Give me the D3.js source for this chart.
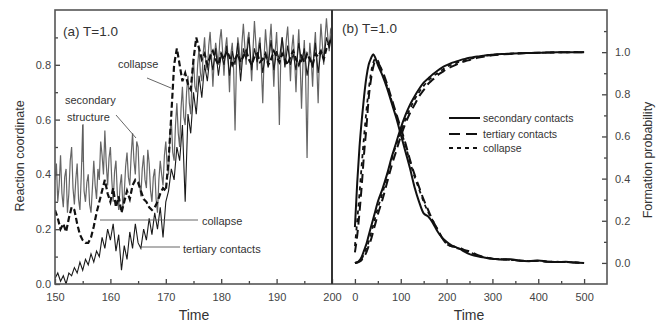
<!DOCTYPE html>
<html><head><meta charset="utf-8">
<script src="https://cdn.jsdelivr.net/npm/d3@7"></script>
<style>
html,body{margin:0;padding:0;background:#fff;}
svg text{font-family:"Liberation Sans",Arial,sans-serif;}
</style></head>
<body>
<svg id="chart" width="660" height="322"></svg>
<script>
// ---------- DATA ----------
// Panel (a): reaction coordinate vs time
const leftStart = 150;
const secStep = 0.25;   // secondary structure sampled every 0.25
const otherStep = 0.5;  // tertiary contacts and collapse sampled every 0.5
const secondaryStructure = [
0.38,0.44,0.30,0.36,0.47,0.33,0.28,0.39,0.42,0.26,
0.33,0.45,0.50,0.35,0.29,0.38,0.44,0.31,0.27,0.40,
0.58,0.34,0.30,0.37,0.40,0.29,0.26,0.35,0.45,0.36,
0.31,0.42,0.38,0.52,0.47,0.40,0.56,0.44,0.36,0.46,
0.50,0.38,0.30,0.41,0.45,0.33,0.27,0.36,0.40,0.28,
0.33,0.43,0.48,0.39,0.36,0.47,0.55,0.45,0.40,0.52,
0.50,0.37,0.32,0.42,0.47,0.38,0.35,0.49,0.44,0.34,
0.30,0.39,0.42,0.31,0.26,0.38,0.45,0.40,0.36,0.47,
0.52,0.43,0.40,0.55,0.60,0.48,0.45,0.58,0.66,0.55,
0.50,0.64,0.72,0.61,0.58,0.70,0.76,0.66,0.62,0.75,
0.82,0.72,0.70,0.80,0.86,0.77,0.74,0.84,0.90,0.80,
0.78,0.87,0.92,0.83,0.72,0.82,0.88,0.84,0.80,0.89,
0.93,0.85,0.76,0.86,0.90,0.82,0.70,0.84,0.88,0.78,
0.56,0.80,0.90,0.86,0.78,0.88,0.95,0.87,0.80,0.89,
0.92,0.83,0.74,0.86,0.96,0.88,0.78,0.87,0.90,0.79,
0.66,0.83,0.93,0.86,0.79,0.88,0.95,0.84,0.72,0.85,
0.92,0.80,0.58,0.82,0.90,0.86,0.80,0.89,0.94,0.85,
0.74,0.86,0.91,0.82,0.70,0.84,0.93,0.81,0.64,0.80,
0.89,0.75,0.46,0.78,0.88,0.82,0.72,0.85,0.92,0.80,
0.66,0.84,0.95,0.88,0.80,0.90,0.97,0.90,0.85,0.93,
0.94];
const tertiaryContacts = [
0.02,0.04,0.01,0.03,0.00,0.04,0.03,0.06,0.04,0.08,
0.05,0.09,0.07,0.11,0.08,0.12,0.10,0.17,0.13,0.20,
0.16,0.22,0.12,0.18,0.05,0.14,0.09,0.19,0.13,0.22,
0.15,0.13,0.20,0.16,0.24,0.18,0.26,0.20,0.28,0.17,
0.30,0.34,0.42,0.38,0.50,0.45,0.58,0.30,0.62,0.55,
0.70,0.62,0.76,0.68,0.80,0.74,0.84,0.78,0.86,0.76,
0.84,0.80,0.87,0.76,0.85,0.80,0.88,0.74,0.86,0.82,
0.90,0.78,0.86,0.81,0.88,0.77,0.84,0.80,0.89,0.78,
0.85,0.82,0.90,0.79,0.87,0.80,0.84,0.78,0.88,0.81,
0.86,0.76,0.83,0.79,0.88,0.77,0.85,0.82,0.90,0.86,
0.92];
const collapseA = [
0.27,0.24,0.20,0.22,0.19,0.24,0.28,0.27,0.22,0.18,
0.16,0.15,0.15,0.17,0.21,0.26,0.30,0.34,0.38,0.33,
0.30,0.35,0.28,0.32,0.26,0.30,0.34,0.31,0.36,0.38,
0.37,0.34,0.31,0.30,0.28,0.27,0.28,0.30,0.33,0.35,
0.34,0.45,0.62,0.80,0.86,0.80,0.74,0.77,0.73,0.71,
0.82,0.90,0.86,0.82,0.84,0.80,0.83,0.85,0.82,0.80,
0.84,0.82,0.85,0.83,0.80,0.82,0.84,0.81,0.83,0.85,
0.82,0.80,0.83,0.84,0.81,0.82,0.84,0.80,0.82,0.85,
0.83,0.81,0.84,0.82,0.80,0.83,0.85,0.82,0.80,0.83,
0.81,0.84,0.82,0.80,0.84,0.83,0.85,0.82,0.86,0.88,
0.90];
const leftXTicks = [150,160,170,180,190,200];
const leftYTicks = [0.0,0.2,0.4,0.6,0.8];

// Panel (b): formation probability vs time
const rightTime = [0,5,10,15,20,25,30,35,40,45,50,60,70,80,90,100,110,120,130,140,150,160,170,180,190,200,210,220,230,240,250,260,270,280,290,300,320,340,360,380,400,420,440,460,480,500];
const secPeak = [0.17,0.38,0.55,0.68,0.79,0.88,0.94,0.97,0.99,0.97,0.94,0.89,0.83,0.76,0.69,0.61,0.53,0.45,0.36,0.29,0.235,0.22,0.19,0.15,0.12,0.10,0.085,0.075,0.065,0.052,0.042,0.035,0.030,0.027,0.022,0.020,0.016,0.018,0.010,0.008,0.012,0.006,0.004,0.005,0.002,0.0];
const terPeak = [0.05,0.13,0.24,0.37,0.52,0.64,0.78,0.87,0.93,0.96,0.95,0.91,0.85,0.78,0.71,0.64,0.57,0.49,0.42,0.36,0.30,0.25,0.20,0.16,0.12,0.09,0.08,0.075,0.07,0.06,0.055,0.045,0.035,0.028,0.024,0.020,0.017,0.015,0.011,0.009,0.010,0.006,0.005,0.004,0.002,0.0];
const colPeak = [0.08,0.20,0.33,0.47,0.60,0.72,0.82,0.90,0.95,0.97,0.96,0.90,0.84,0.77,0.70,0.63,0.56,0.48,0.41,0.35,0.29,0.24,0.20,0.16,0.12,0.09,0.08,0.072,0.066,0.058,0.05,0.042,0.034,0.028,0.024,0.020,0.017,0.015,0.011,0.009,0.010,0.006,0.005,0.004,0.002,0.0];
const secCum = [0,0.003,0.012,0.03,0.06,0.09,0.13,0.17,0.21,0.25,0.29,0.35,0.42,0.50,0.57,0.64,0.70,0.75,0.79,0.825,0.855,0.875,0.895,0.912,0.927,0.938,0.948,0.955,0.962,0.968,0.973,0.977,0.980,0.983,0.986,0.988,0.991,0.993,0.995,0.996,0.997,0.998,0.999,0.999,1.0,1.0];
const terCum = [0,0.002,0.006,0.015,0.03,0.05,0.08,0.11,0.15,0.19,0.23,0.30,0.38,0.46,0.53,0.60,0.66,0.71,0.75,0.79,0.82,0.85,0.87,0.89,0.905,0.92,0.93,0.94,0.95,0.957,0.963,0.969,0.974,0.978,0.982,0.985,0.989,0.992,0.994,0.996,0.997,0.998,0.999,0.999,1.0,1.0];
const colCum = [0,0.003,0.01,0.02,0.045,0.07,0.10,0.14,0.18,0.22,0.26,0.33,0.41,0.49,0.56,0.62,0.68,0.73,0.775,0.81,0.84,0.865,0.885,0.90,0.915,0.93,0.94,0.948,0.956,0.962,0.968,0.973,0.977,0.981,0.984,0.987,0.990,0.993,0.995,0.996,0.997,0.998,0.999,0.999,1.0,1.0];
const rightXTicks = [0,100,200,300,400,500];
const rightYTicks = [0.0,0.2,0.4,0.6,0.8,1.0];
const legendLabels = ["secondary contacts","tertiary contacts","collapse"];

// ---------- DRAW ----------
const svg = d3.select("#chart");
const axisCol = "#444";
const xL = d3.scaleLinear().domain([150,200]).range([55,332]);
const yL = d3.scaleLinear().domain([0,1.0]).range([284,10]);
const xR = d3.scaleLinear().domain([-50,550]).range([332,607]);
const yR = d3.scaleLinear().domain([-0.1,1.2]).range([284,10]);

svg.append("clipPath").attr("id","clipA").append("rect")
  .attr("x",55).attr("y",10).attr("width",277).attr("height",274);

const gA = svg.append("g").attr("clip-path","url(#clipA)");
const lineL = (d,step) => d3.line().x((v,i)=>xL(leftStart + i*step)).y(v=>yL(v))(d);

gA.append("path").attr("d",lineL(secondaryStructure,secStep))
  .attr("fill","none").attr("stroke","#4a4a4a").attr("stroke-width",1.2).attr("stroke-opacity",0.85);
gA.append("path").attr("d",lineL(tertiaryContacts,otherStep))
  .attr("fill","none").attr("stroke","#1a1a1a").attr("stroke-width",1.1);
gA.append("path").attr("d",lineL(collapseA,otherStep))
  .attr("fill","none").attr("stroke","#111").attr("stroke-width",2.2).attr("stroke-dasharray","6,3");

const lineR = d => d3.line().x((v,i)=>xR(rightTime[i])).y(v=>yR(v)).curve(d3.curveMonotoneX)(d);
const styles = [
  {w:2, dash:null},
  {w:2, dash:"9,5"},
  {w:1.8, dash:"4,4"}
];
[[secPeak,secCum],[terPeak,terCum],[colPeak,colCum]].forEach((pair,k)=>{
  pair.forEach(arr=>{
    const p = svg.append("path").attr("d",lineR(arr))
      .attr("fill","none").attr("stroke","#111").attr("stroke-width",styles[k].w);
    if(styles[k].dash) p.attr("stroke-dasharray",styles[k].dash);
  });
});

legendLabels.forEach((lab,k)=>{
  const yy = [118,134,148][k];
  const l = svg.append("line").attr("x1",449).attr("x2",480).attr("y1",yy).attr("y2",yy)
    .attr("stroke","#111").attr("stroke-width",styles[k].w);
  if(styles[k].dash) l.attr("stroke-dasharray", k===1 ? "11,6" : "4,4");
  svg.append("text").attr("x",483).attr("y",yy+3.8).attr("font-size",10.5).attr("fill","#333").text(lab);
});

function styleAxis(g){
  g.select(".domain").remove();
  g.selectAll("line").attr("stroke",axisCol).attr("stroke-width",1.3);
  g.selectAll("text").attr("font-size",11).attr("fill","#444")
    .attr("font-family","'Liberation Sans',Arial,sans-serif");
}

svg.append("g").attr("transform","translate(0,284)")
  .call(d3.axisBottom(xL).tickValues(leftXTicks).tickSize(-5).tickPadding(9).tickFormat(d3.format("d")))
  .call(styleAxis);
svg.append("g").attr("transform","translate(0,284)")
  .call(d3.axisBottom(xL).tickValues(leftXTicks.slice(0,-1).map(d=>d+5)).tickSize(-3).tickFormat(""))
  .call(styleAxis);
svg.append("g").attr("transform","translate(55,0)")
  .call(d3.axisLeft(yL).tickValues(leftYTicks).tickSize(-5).tickPadding(4).tickFormat(d3.format(".1f")))
  .call(styleAxis);
svg.append("g").attr("transform","translate(55,0)")
  .call(d3.axisLeft(yL).tickValues(leftYTicks.map(d=>d+0.1)).tickSize(-3).tickFormat(""))
  .call(styleAxis);

svg.append("g").attr("transform","translate(0,284)")
  .call(d3.axisBottom(xR).tickValues(rightXTicks).tickSize(-5).tickPadding(9).tickFormat(d3.format("d")))
  .call(styleAxis);
svg.append("g").attr("transform","translate(0,284)")
  .call(d3.axisBottom(xR).tickValues(rightXTicks.slice(0,-1).map(d=>d+50)).tickSize(-3).tickFormat(""))
  .call(styleAxis);
svg.append("g").attr("transform","translate(607,0)")
  .call(d3.axisRight(yR).tickValues(rightYTicks).tickSize(-5).tickPadding(8).tickFormat(d3.format(".1f")))
  .call(styleAxis);
svg.append("g").attr("transform","translate(607,0)")
  .call(d3.axisRight(yR).tickValues(rightYTicks.map(d=>+(d+0.1).toFixed(1))).tickSize(-3).tickFormat(""))
  .call(styleAxis);

svg.append("rect").attr("x",55).attr("y",10).attr("width",552).attr("height",274)
  .attr("fill","none").attr("stroke","#555").attr("stroke-width",1.6);
svg.append("line").attr("x1",332).attr("x2",332).attr("y1",10).attr("y2",284)
  .attr("stroke","#333").attr("stroke-width",2);

const ann = svg.append("g").attr("stroke","#555").attr("stroke-width",0.9);
ann.append("line").attr("x1",83).attr("y1",124).attr("x2",83).attr("y2",162);
ann.append("line").attr("x1",116).attr("y1",115).attr("x2",136).attr("y2",138);
ann.append("line").attr("x1",147).attr("y1",78).attr("x2",171).attr("y2",88);
ann.append("line").attr("x1",100).attr("y1",220).attr("x2",198).attr("y2",220);
ann.append("line").attr("x1",140).attr("y1",247).attr("x2",180).attr("y2",247);

const txt = (x,y,s,size,anchor)=>svg.append("text").attr("x",x).attr("y",y)
  .attr("font-size",size).attr("fill","#333").attr("text-anchor",anchor||"start").text(s);
txt(118,68,"collapse",11);
txt(65,104,"secondary",11);
txt(67,121,"structure",11);
txt(202,225,"collapse",11);
txt(183,253,"tertiary contacts",11);

txt(63,36,"(a)  T=1.0",13.5);
txt(342,33,"(b)  T=1.0",13.5);

txt(194,320,"Time",14,"middle");
txt(469,320,"Time",14,"middle");
svg.append("text").attr("transform","translate(24,156) rotate(-90)")
  .attr("text-anchor","middle").attr("font-size",12.5).attr("fill","#333").text("Reaction coordinate");
svg.append("text").attr("transform","translate(652,160) rotate(-90)")
  .attr("text-anchor","middle").attr("font-size",12.5).attr("fill","#333").text("Formation probability");
</script>
</body></html>
